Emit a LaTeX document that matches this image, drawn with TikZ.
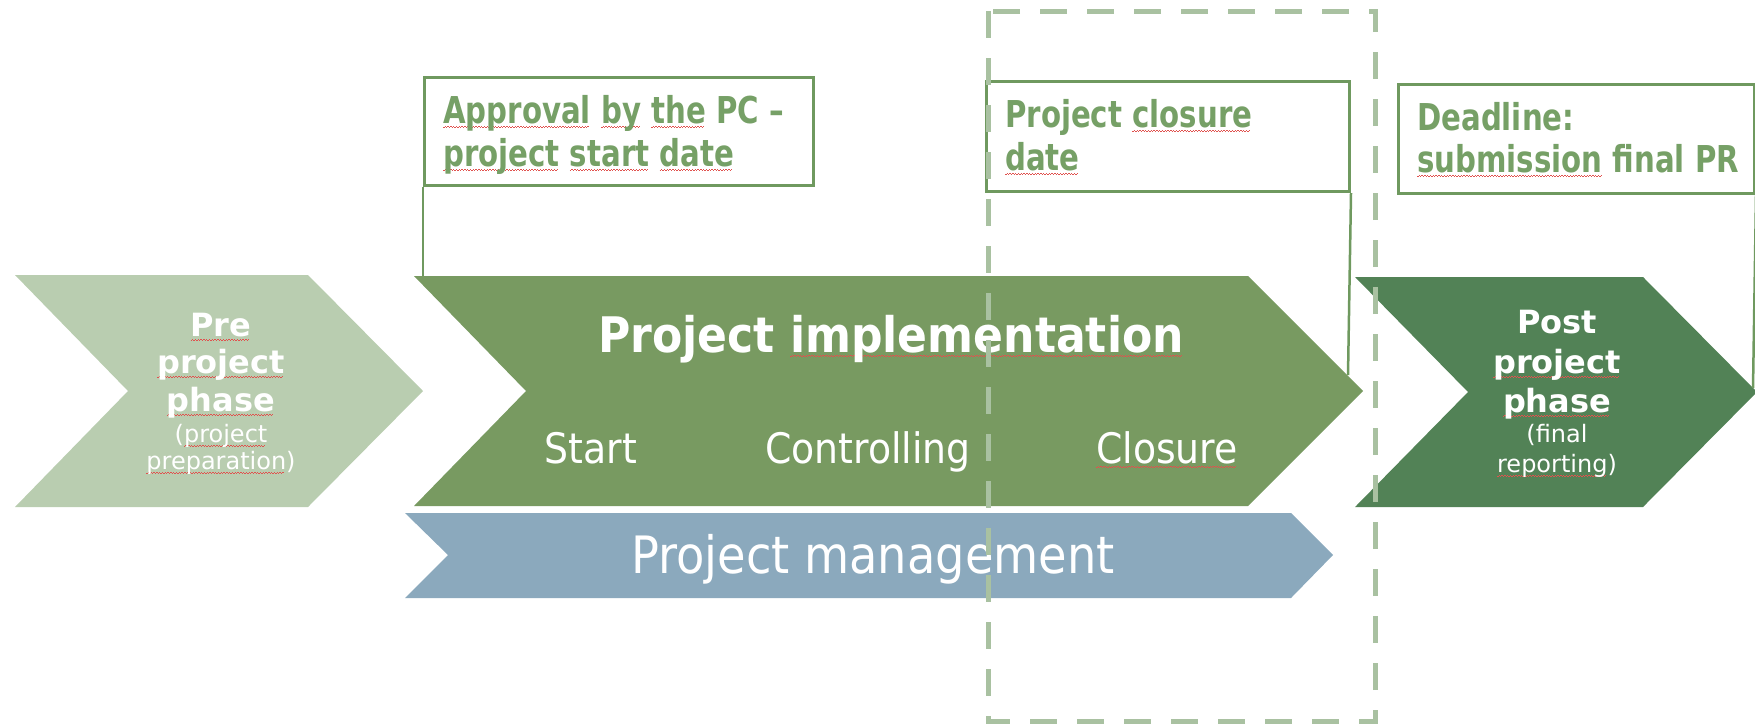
\documentclass[tikz,border=0pt]{standalone}
\usepackage{fontspec}
\setmainfont{DejaVu Sans}
\newfontfamily\fa[FakeStretch=0.79]{DejaVu Sans}
\newfontfamily\fb[FakeStretch=0.9]{DejaVu Sans}
\definecolor{preC}{HTML}{B9CDB0}
\definecolor{implC}{HTML}{789A61}
\definecolor{postC}{HTML}{528256}
\definecolor{pmC}{HTML}{8BA9BD}
\definecolor{boxC}{HTML}{6F995F}
\definecolor{boxT}{HTML}{76A066}
\definecolor{dashC}{HTML}{A9C1A1}
\definecolor{squig}{HTML}{E0524F}
\newsavebox\sqbox
\newcommand\sq[1]{\sbox\sqbox{#1}\rlap{\textcolor{squig}{\leaders\hbox{\rule[-4.4pt]{1.4pt}{0.9pt}\rule[-3.4pt]{1.4pt}{0.9pt}}\hskip\wd\sqbox}}\usebox\sqbox}
\tikzset{
  wtxt/.style={inner sep=0pt, anchor=base, text=white},
  phb/.style={wtxt, font=\fontsize{32}{38}\selectfont\bfseries},
  phs/.style={wtxt, font=\fontsize{24}{28}\selectfont},
  stage/.style={wtxt, font=\fb\fontsize{42}{48}\selectfont},
  btxt/.style={inner sep=0pt, anchor=base west, text=boxT, font=\fa\fontsize{37}{42}\selectfont\bfseries},
  datebox/.style={draw=boxC, line width=3pt, inner sep=0pt, anchor=north west, fill=white},
  link/.style={draw=boxC, line width=2.5pt},
  dashbox/.style={draw=dashC, line width=5pt, dash pattern=on 27pt off 20pt},
}
\begin{document}
\begin{tikzpicture}[x=1pt,y=-1pt]
\useasboundingbox (0,0) rectangle (1755,724);
% chevrons
\fill[preC] (15,275) -- (308,275) -- (423,391) -- (308,507) -- (15,507) -- (128,391) -- cycle;
\fill[implC] (414,276) -- (1248,276) -- (1363,391) -- (1248,506) -- (414,506) -- (526,391) -- cycle;
\fill[postC] (1355,277) -- (1643,277) -- (1757,392) -- (1643,507) -- (1355,507) -- (1468,392) -- cycle;
\fill[pmC] (405,513) -- (1291,513) -- (1333,555) -- (1291,598) -- (405,598) -- (448,555) -- cycle;
\coordinate (implA) at (423,276);
\coordinate (implB) at (1348,375);
\coordinate (postA) at (1753,388);
% date boxes
\node[datebox, minimum width=389pt, minimum height=108pt] (appr) at (423,76) {};
\node[datebox, minimum width=363pt, minimum height=110pt] (clos) at (985,80) {};
\node[datebox, minimum width=356pt, minimum height=109pt] (dead) at (1397,83) {};
\draw[link] (appr.south west) -- (implA);
\draw[link] (clos.south east) -- (implB);
\draw[link] (dead.south east) -- (postA);
% box texts
\node[btxt] (a1) at (443,123) {\sq{Approval} \sq{by} \sq{the} PC –};
\node[btxt] (a2) at (443,166) {\sq{project} \sq{start} \sq{date}};
\node[btxt] (c1) at (1005,127) {Project \sq{closure}};
\node[btxt] (c2) at (1005,170) {\sq{date}};
\node[btxt] (d1) at (1417,130) {Deadline:};
\node[btxt] (d2) at (1417,172) {\sq{submission} final PR};
% pre phase
\node[phb] (p1) at (221,336) {\sq{Pre}};
\node[phb] (p2) at (221,373) {\sq{project}};
\node[phb] (p3) at (221,411) {\sq{phase}};
\node[phs] (p4) at (221,442) {(\sq{project}};
\node[phs] (p5) at (221,469) {\sq{preparation})};
% implementation
\node[wtxt, font=\fb\fontsize{49}{56}\selectfont\bfseries] (impl) at (891,352) {Project \sq{implementation}};
\node[stage] (s1) at (591,463) {Start};
\node[stage] (s2) at (868,463) {Controlling};
\node[stage] (s3) at (1167,463) {\sq{Closure}};
% post phase
\node[phb] (q1) at (1557,333) {Post};
\node[phb] (q2) at (1557,373) {\sq{project}};
\node[phb] (q3) at (1557,412) {\sq{phase}};
\node[phs] (q4) at (1557,442) {(final};
\node[phs] (q5) at (1557,472) {\sq{reporting})};
% project management
\node[wtxt, font=\fb\fontsize{51.5}{58}\selectfont] (pm) at (873,573) {Project management};
% dashed frame
\draw[dashbox] (988,11) rectangle (1375,721);
\end{tikzpicture}
\end{document}
